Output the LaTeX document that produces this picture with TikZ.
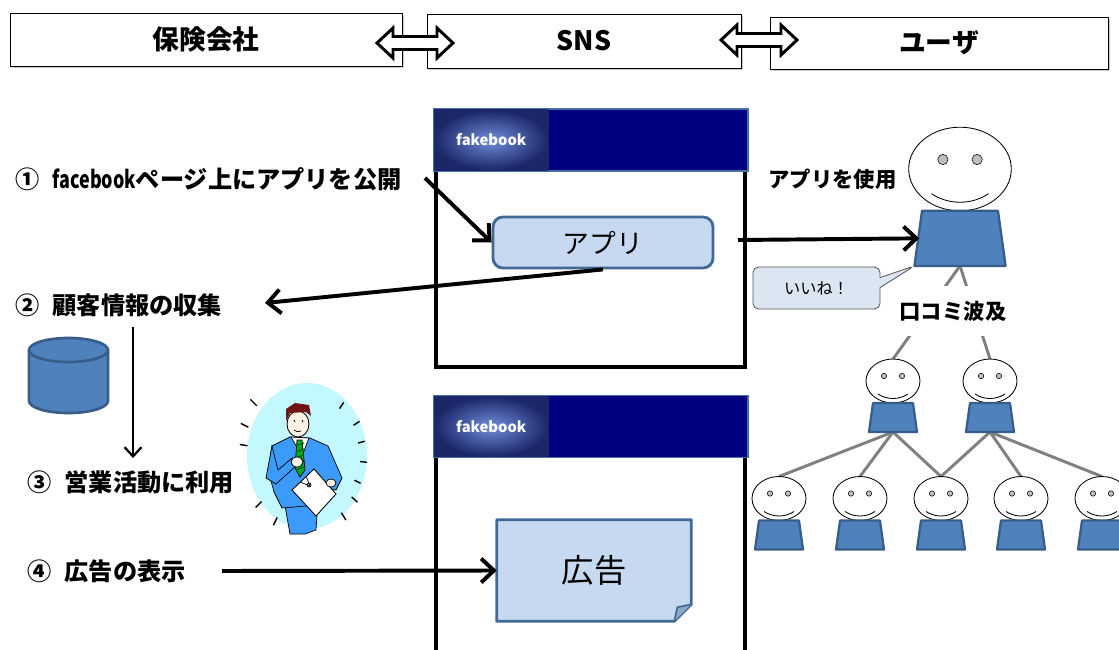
\documentclass[tikz,border=0pt]{standalone}
\usepackage{fontspec}
\setmainfont{Noto Sans CJK JP}
\usepackage{xcolor}
\definecolor{fbnavy}{RGB}{0, 0, 128}
\definecolor{fbedge}{RGB}{74, 111, 165}
\definecolor{fbglow}{RGB}{112, 142, 218}
\definecolor{fbdark}{RGB}{28, 38, 105}
\definecolor{applight}{RGB}{198, 217, 241}
\definecolor{appedge}{RGB}{65, 105, 150}
\definecolor{bodyblue}{RGB}{79, 129, 189}
\definecolor{bodyedge}{RGB}{56, 93, 138}
\definecolor{likefill}{RGB}{220, 230, 242}
\definecolor{suitblue}{RGB}{60, 155, 250}
\definecolor{haloblue}{RGB}{195, 248, 255}
\definecolor{tiegreen}{RGB}{0, 170, 40}
\definecolor{hairred}{RGB}{110, 20, 20}
\definecolor{skin}{RGB}{255, 242, 228}
\usepackage{tikz}
\usetikzlibrary{arrows.meta, positioning, calc, shapes.callouts, shadows, backgrounds}

\newcommand{\narrowlatin}[1]{{\addfontfeatures{FakeStretch=0.74}#1}}

\begin{document}
\begin{tikzpicture}[x=0.025cm, y=-0.025cm,
        topbox/.style={rectangle, draw=black, line width=0.6pt, fill=white, drop shadow={shadow xshift=1.5pt, shadow yshift=-1.5pt, fill=black!40}, font=\fontsize{19}{22}\selectfont\bfseries},
        dblarrow/.style={draw=black, fill=white, line width=2.1pt, line join=miter},
        fbbar/.style={rectangle, draw=fbedge, line width=1.2pt, fill=fbnavy, minimum width=7.85cm, minimum height=1.55cm},
        fblogo/.style={rectangle, inner sep=0pt, minimum width=2.85cm, minimum height=1.5cm, shading=radial, inner color=fbglow, outer color=fbdark, text=white, font=\fontsize{10.5}{12}\selectfont\bfseries},
        frame/.style={draw=black, line width=2.2pt},
        appbox/.style={rectangle, rounded corners=0.25cm, draw=appedge, line width=2pt, fill=applight, minimum width=5.5cm, minimum height=1.275cm, font=\fontsize{19}{22}\selectfont},
        steplabel/.style={anchor=west, inner sep=0pt, font=\fontsize{17.2}{20}\selectfont\bfseries},
        userlabel/.style={inner sep=0pt, font=\fontsize{15.2}{18}\selectfont\bfseries},
        line/.style={draw=black, line width=2.8pt, -{Straight Barb[length=9pt, width=17pt]}},
        thinline/.style={draw=black, line width=1.6pt, -{Straight Barb[length=6.5pt, width=12pt]}},
        link/.style={draw=black!50, line width=2.1pt},
        person/.pic={
            \draw[line width=0.6pt, fill=white] (0,0) ellipse (27 and 22);
            \draw[line width=0.4pt, fill=black!25] (-9,-5) circle (2.7) (9,-5) circle (2.7);
            \draw[line width=0.6pt] (-15,13) .. controls (-6,19) and (6,19) .. (15,13);
            \draw[draw=bodyedge, fill=bodyblue, line width=1.6pt, line join=round] (-20,22) -- (20,22) -- (24,51) -- (-24,51) -- cycle;
            \coordinate (-top) at (0,-22);
            \coordinate (-foot) at (0,51);
            \coordinate (-side) at (-21.5,36.5);
            \coordinate (-corner) at (-24,51);
        }]

    \useasboundingbox (0,0) rectangle (1119,650);

    % actors along the top
    \node [topbox, minimum width=9.8cm, minimum height=1.325cm] (insurer) at (206,39.5) {保険会社};
    \node [topbox, minimum width=7.85cm, minimum height=1.35cm] (sns) at (584,41) {SNS};
    \node [topbox, minimum width=8.45cm, minimum height=1.3cm] (user) at (939,43) {ユーザ};

    \coordinate (m1) at (415,43);
    \coordinate (m2) at (759,40);
    \foreach \m in {m1, m2}
        \draw [dblarrow] (\m) ++(-38,0) -- ++(16,-15) -- ++(0,8.5) -- ++(44,0) -- ++(0,-8.5) -- ++(16,15)
            -- ++(-16,15) -- ++(0,-8.5) -- ++(-44,0) -- ++(0,8.5) -- cycle;

    % SNS pages
    \draw [frame] (436,171) -- (436,367) -- (745,367) -- (745,171);
    \draw [frame] (436,457) -- (436,655);
    \draw [frame] (745,457) -- (745,655);
    \node [fbbar] (win1) at (591,140) {};
    \node [fblogo, anchor=west] (logo1) at ([xshift=0.6pt]win1.west) {fakebook};
    \node [fbbar] (win2) at (591,426.5) {};
    \node [fblogo, anchor=west] (logo2) at ([xshift=0.6pt]win2.west) {fakebook};

    \node [appbox] (app) at (603,242.5) {アプリ};
    \node [minimum width=4.85cm, minimum height=2.525cm, font=\fontsize{23}{26}\selectfont] (ad) at (594,570.5) {広告};
    \begin{scope}[on background layer]
        \draw [draw=appedge, fill=applight, line width=2pt, line join=round] (ad.north west) -- (ad.north east)
            -- ($(ad.south east)+(0,-17)$) -- ($(ad.south east)+(-17,0)$) -- (ad.south west) -- cycle;
    \end{scope}
    \draw [draw=appedge, fill=applight!55!appedge, line width=1.2pt, line join=round] ($(ad.south east)+(0,-17)$)
        -- ($(ad.south east)+(-14,-14)$) -- ($(ad.south east)+(-17,0)$);

    % steps on the insurer side
    \node [steplabel] (lab1) at (15,179) {①\hspace{0.55em}\narrowlatin{facebook}ページ上にアプリを公開};
    \node [steplabel] (lab2) at (15,305) {②\hspace{0.55em}顧客情報の収集};
    \node [steplabel] (lab3) at (27,482) {③\hspace{0.55em}営業活動に利用};
    \node [steplabel] (lab4) at (27,571) {④\hspace{0.55em}広告の表示};

    % customer database
    \draw [draw=bodyedge, fill=bodyblue, line width=1.9pt] (29,350) -- (29,401) arc[start angle=180, end angle=0, x radius=39.5, y radius=12] -- (108,350);
    \draw [draw=bodyedge, fill=bodyblue, line width=1.9pt] (68.5,350) ellipse (39.5 and 12);

    % salesman
    \coordinate (halo) at (307,456);
    \fill [haloblue] (halo) ellipse (60 and 73);
    \foreach \x/\y in {253/402, 244/425, 243/445, 258/505, 275/522, 342/405, 357/423, 362/442, 364/462, 358/482, 355/500, 344/517}
        \draw [line width=1pt] ($(halo)!0.93!(\x,\y)$) -- ($(halo)!1.05!(\x,\y)$);
    \draw [fill=suitblue, line width=0.5pt] (284,500) -- (318,500) -- (316,530) -- (305,534) -- (290,534) -- cycle;
    \draw [fill=suitblue, line width=0.5pt] (272,446) -- (290,437) -- (310,438) -- (328,446) -- (342,478) -- (336,490)
        -- (320,486) -- (318,505) -- (282,508) -- (274,492) -- (268,470) -- cycle;
    \draw [fill=white, line width=0.5pt] (291,437) -- (309,438) -- (302,456) -- cycle;
    \draw [fill=tiegreen, line width=0.5pt] (297,440) -- (302,440) -- (305,470) -- (300,477) -- (295,468) -- cycle;
    \foreach \t in {446,452,...,470}
        \draw [black!60!green, line width=0.8pt] (296,\t) -- (304,\t-3);
    \draw [fill=suitblue, line width=0.5pt] (272,446) -- (266,478) -- (276,484) -- (296,466) -- (292,458) -- (278,470) -- cycle;
    \draw [fill=skin, line width=0.5pt] (297,462) ellipse (6 and 5);
    \draw [fill=white, line width=0.6pt] (292,490) -- (314,469) -- (336,494) -- (316,516) -- cycle;
    \draw [line width=0.5pt] (300,482) -- (310,486) -- (306,476);
    \draw [line width=0.5pt] (309,485) circle (2);
    \draw [fill=skin, line width=0.5pt] (331,483) ellipse (5 and 4);
    \draw [fill=skin, line width=0.6pt] (298,424) ellipse (11 and 13);
    \fill [hairred] (286,421) -- (286,409) -- (295,403) -- (309,405) -- (311,416) -- (306,412) -- (290,413) -- cycle;
    \draw [line width=0.6pt] (294,420) -- (295,422) (302,420) -- (303,422);
    \draw [line width=0.5pt] (294,430) .. controls (297,432) .. (301,431);

    % users and word of mouth
    \pic [scale=1.9] (u0) at (960,169) {person};
    \pic (u1) at (893,381) {person};
    \pic (u2) at (990,381) {person};
    \foreach \i/\x in {3/779, 4/860, 5/941, 6/1021, 7/1102}
        \pic (u\i) at (\x,498.5) {person};

    \begin{scope}[on background layer]
        \draw [link] (u0-foot) -- (u1-top);
        \draw [link] (u0-foot) -- (u2-top);
        \foreach \i in {3,4,5}
            \draw [link] (u1-foot) -- (u\i-top);
        \foreach \i in {5,6,7}
            \draw [link] (u2-foot) -- (u\i-top);
    \end{scope}

    \node [userlabel, anchor=west] (use) at (768,179) {アプリを使用};
    \node [userlabel, fill=white, minimum height=1.25cm, inner xsep=2pt] (spread) at (953,311) {口コミ波及};
    \node [rectangle callout, callout absolute pointer={(u0-corner)}, draw=black!65, line width=0.6pt, fill=likefill,
        rounded corners=4pt, minimum width=3.175cm, minimum height=1.05cm, font=\fontsize{11.5}{14}\selectfont] (like) at (816.5,288) {いいね！};

    % flows
    \coordinate (s1) at (425,178);
    \coordinate (e2) at (265,303);
    \coordinate (d1) at (133,327);
    \coordinate (d2) at (133,458);
    \coordinate (s4) at (222,571);
    \coordinate (s5) at (738,240);

    \path [line] (s1) -- (app.west);
    \path [line] (app.south) -- (e2);
    \path [thinline] (d1) -- (d2);
    \path [line] (s4) -- (ad.west);
    \path [line] (s5) -- (u0-side);
\end{tikzpicture}
\end{document}
